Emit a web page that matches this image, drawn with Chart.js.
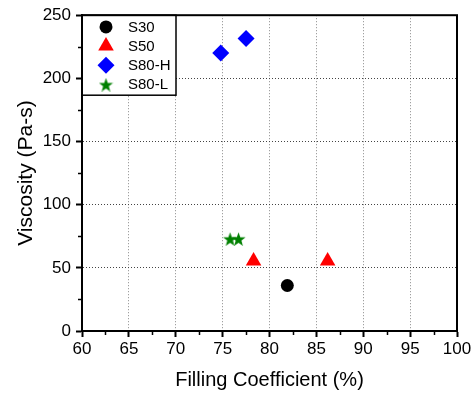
<!DOCTYPE html>
<html>
<head>
<meta charset="utf-8">
<script src="https://cdn.jsdelivr.net/npm/chart.js@4.4.0/dist/chart.umd.min.js"></script>
<style>
html, body { margin: 0; padding: 0; background: #fff; }
</style>
</head>
<body>
<canvas id="chart1" width="474" height="394"></canvas>
<script>
// data
let seriesNames = ["S30", "S50", "S80-H", "S80-L"];
let s30X = [81.9], s30Y = [36];
let s50X = [78.3, 86.2], s50Y = [55.5, 55.5];
let s80hX = [74.8, 77.5], s80hY = [220, 231.5];
let s80lX = [75.8, 76.7], s80lY = [73, 73];
let xMin = 60, xMax = 100, xStep = 5;
let yMin = 0, yMax = 250, yStep = 50;

const FONT = "'Liberation Sans', Arial, sans-serif";

function pts(xs, ys) {
    return xs.map((x, i) => ({x: x, y: ys[i]}));
}

// filled five-point star for S80-L (Chart.js "star" is an asterisk)
function makeStar(color) {
    let c = document.createElement("canvas");
    c.width = 15; c.height = 14;
    let g = c.getContext("2d");
    let R = 7.4, r = 3.0, cx = 7.5, cy = 7.9;
    g.beginPath();
    for (let i = 0; i < 10; i++) {
        let rad = (i % 2 == 0) ? R : r;
        let a = -Math.PI / 2 + i * Math.PI / 5;
        let px = cx + rad * Math.cos(a), py = cy + rad * Math.sin(a);
        if (i == 0) g.moveTo(px, py); else g.lineTo(px, py);
    }
    g.closePath();
    g.fillStyle = color;
    g.fill();
    return c;
}
let starImg = makeStar("#008000");

// legend box, minor ticks and the closed frame
const framePlugin = {
    id: "frame",
    afterDraw(chart) {
        const ctx = chart.ctx, a = chart.chartArea;
        const xs = chart.scales.x, ys = chart.scales.y;
        ctx.save();

        // legend
        let bx = a.left, by = a.top, bw = 94, bh = 80;
        ctx.fillStyle = "#fff";
        ctx.fillRect(bx, by, bw, bh);
        ctx.lineWidth = 1.5;
        ctx.strokeStyle = "#000";
        ctx.strokeRect(bx, by, bw, bh);
        chart.data.datasets.forEach((ds, i) => {
            let my = by + 11.7 + i * 19.2;
            ctx.fillStyle = ds.backgroundColor;
            Chart.helpers.drawPoint(ctx, {pointStyle: ds.pointStyle, rotation: 0, radius: ds.pointRadius, borderWidth: 0}, bx + 24, my);
            ctx.fillStyle = "#000";
            ctx.font = "15px " + FONT;
            ctx.textAlign = "left";
            ctx.textBaseline = "middle";
            ctx.fillText(ds.label, bx + 46, my + 0.5);
        });

        // minor ticks
        ctx.strokeStyle = "#000";
        ctx.lineWidth = 1.5;
        ctx.beginPath();
        for (let v = xMin + xStep / 2; v < xMax; v += xStep) {
            let px = Math.round(xs.getPixelForValue(v)) + 0.5;
            ctx.moveTo(px, a.bottom); ctx.lineTo(px, a.bottom + 4);
        }
        for (let v = yMin + yStep / 2; v < yMax; v += yStep) {
            let py = Math.round(ys.getPixelForValue(v)) + 0.5;
            ctx.moveTo(a.left, py); ctx.lineTo(a.left - 4, py);
        }
        ctx.stroke();

        // frame
        ctx.lineWidth = 2;
        ctx.strokeRect(a.left, a.top, a.right - a.left, a.bottom - a.top);
        ctx.restore();
    }
};

new Chart(document.getElementById("chart1"), {
    type: "scatter",
    data: {
        datasets: [
            { label: seriesNames[0], data: pts(s30X, s30Y), pointStyle: "circle", pointRadius: 6.5,
              backgroundColor: "#000", borderWidth: 0 },
            { label: seriesNames[1], data: pts(s50X, s50Y), pointStyle: "triangle", pointRadius: 9,
              backgroundColor: "#ff0000", borderWidth: 0 },
            { label: seriesNames[2], data: pts(s80hX, s80hY), pointStyle: "rectRot", pointRadius: 8.5,
              backgroundColor: "#0000ff", borderWidth: 0 },
            { label: seriesNames[3], data: pts(s80lX, s80lY), pointStyle: starImg, pointRadius: 7,
              backgroundColor: "#008000", borderWidth: 0 }
        ]
    },
    options: {
        responsive: false,
        animation: false,
        events: [],
        layout: { padding: { top: 15, right: 17, left: 0, bottom: 0 } },
        plugins: { legend: { display: false }, tooltip: { enabled: false } },
        scales: {
            x: {
                type: "linear", min: xMin, max: xMax,
                ticks: { stepSize: xStep, color: "#000", font: { size: 17, family: FONT }, padding: 2, maxRotation: 0, autoSkip: false },
                grid: { color: "#8a8a8a", lineWidth: 1, tickColor: "#000", tickWidth: 2, tickLength: 6 },
                border: { display: true, color: "#000", width: 2, dash: [1, 2] },
                title: { display: true, text: "Filling Coefficient (%)", color: "#000",
                         font: { size: 20, family: FONT }, padding: { top: 0, bottom: 2 } },
                afterFit(s) { s.height = 63; }
            },
            y: {
                type: "linear", min: yMin, max: yMax,
                ticks: { stepSize: yStep, color: "#000", font: { size: 17, family: FONT }, padding: 5 },
                grid: { color: "#444", lineWidth: 1, tickColor: "#000", tickWidth: 2, tickLength: 6 },
                border: { display: true, color: "#000", width: 2, dash: [1, 2] },
                title: { display: true, text: "Viscosity (Pa-s)", color: "#000",
                         font: { size: 21, family: FONT }, padding: { top: 14, bottom: 0 } },
                afterFit(s) { s.width = 82; }
            }
        }
    },
    plugins: [framePlugin]
});
</script>
</body>
</html>
